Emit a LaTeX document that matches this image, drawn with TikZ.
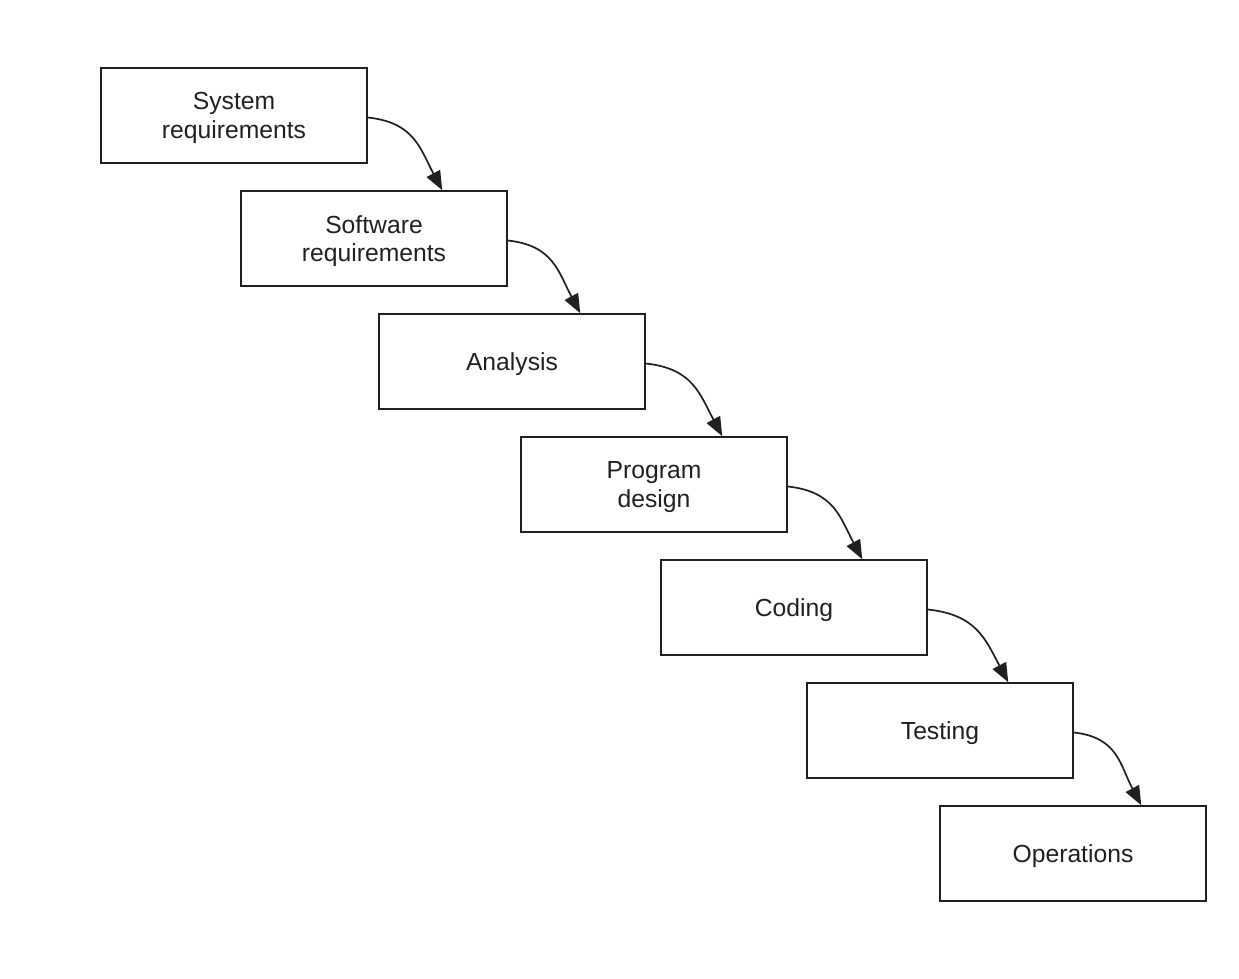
\documentclass[tikz,border=0pt]{standalone}
\usepackage{fontspec}
\setmainfont{Liberation Sans}
\usetikzlibrary{arrows.meta,calc}
\definecolor{ink}{HTML}{231F20}
\begin{document}
\begin{tikzpicture}[x=1pt,y=-1pt,
  stage/.style={draw=ink,line width=1.6pt,minimum width=266pt,minimum height=95pt,
    inner sep=0pt,align=center,text=ink,font=\fontsize{24.7}{28.5}\selectfont,
    text depth=0pt},
  flow/.style={draw=ink,line width=1.7pt,-{Triangle[length=19pt,width=15pt]},
    out=-6,in=118,looseness=1.15}]
\useasboundingbox (0,0) rectangle (1239,978);
\node[stage] (b1) at (234,115.5) {System\\requirements};
\node[stage] (b2) at (374,238.5) {Software\\requirements};
\node[stage] (b3) at (512,361.5) {Analysis};
\node[stage] (b4) at (654,484.5) {Program\\design};
\node[stage] (b5) at (794,607.5) {Coding};
\node[stage] (b6) at (940,730.5) {Testing};
\node[stage] (b7) at (1073,853.5) {Operations};
\foreach \a/\b in {b1/b2,b2/b3,b3/b4,b4/b5,b5/b6,b6/b7}{
  \draw[flow] ($(\a.east)+(0,2)$) to ($(\b.north west)!0.755!(\b.north east)$);
}
\end{tikzpicture}
\end{document}
